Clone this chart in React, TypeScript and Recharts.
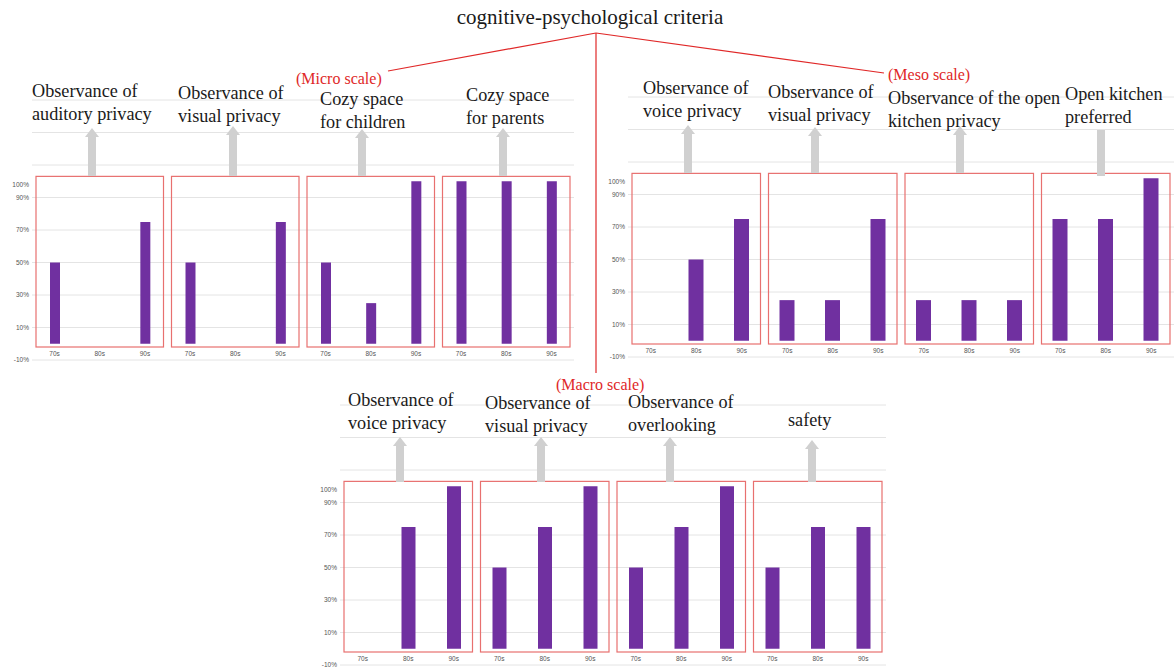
import React from 'react';
import { BarChart, Bar, XAxis, YAxis, CartesianGrid, ReferenceArea } from 'recharts';

const decades = ['70s', '80s', '90s'];
const yTicks = [-10, 10, 30, 50, 70, 90, 100];
const gridValues = [-10, 10, 30, 50, 70, 90, 110, 130, 150];

// micro scale panels
const microTitles = [
  ['Observance of', 'auditory privacy'],
  ['Observance of', 'visual privacy'],
  ['Cozy space', 'for children'],
  ['Cozy space', 'for parents'],
];
const microAuditory = [50, 0, 75];
const microVisual = [50, 0, 75];
const microChildren = [50, 25, 100];
const microParents = [100, 100, 100];

// meso scale panels
const mesoTitles = [
  ['Observance of', 'voice privacy'],
  ['Observance of', 'visual privacy'],
  ['Observance of the open', 'kitchen privacy'],
  ['Open kitchen', 'preferred'],
];
const mesoVoice = [0, 50, 75];
const mesoVisual = [25, 25, 75];
const mesoKitchen = [25, 25, 25];
const mesoOpenKitchen = [75, 75, 100];

// macro scale panels
const macroTitles = [
  ['Observance of', 'voice privacy'],
  ['Observance of', 'visual privacy'],
  ['Observance of', 'overlooking'],
  ['safety'],
];
const macroVoice = [0, 75, 100];
const macroVisual = [50, 75, 100];
const macroOverlooking = [50, 75, 100];
const macroSafety = [50, 75, 75];

const PURPLE = '#7030a0';
const BOX_RED = '#e8706f';
const LINE_RED = '#e02828';
const SANS = '"Liberation Sans", Arial, sans-serif';
const SERIF = '"Liberation Serif", "Times New Roman", serif';

const buildRows = (panels: number[][]) =>
  panels.flatMap((vals, p) => decades.map((d, i) => ({ key: `${p}-${d}`, value: vals[i] })));

const YTick = (props: any) => {
  const { x, y, payload } = props;
  return (
    <text x={x} y={y + (payload.value === 100 ? 4 : 0)} dy={2.2} textAnchor="end" fontSize={6.5} fill="#555" fontFamily={SANS}>
      {payload.value}%
    </text>
  );
};

const XTick = (props: any) => {
  const { x, y, payload } = props;
  return (
    <text x={x} y={y - 4} textAnchor="middle" fontSize={6.5} fill="#555" fontFamily={SANS}>
      {String(payload.value).split('-')[1]}
    </text>
  );
};

const boxShape = (props: any) => (
  <rect x={props.x + 4} y={props.y} width={props.width - 8} height={props.height} fill="none" stroke={BOX_RED} strokeWidth={1.2} />
);

interface GroupProps {
  left: number;
  top: number;
  width: number;
  right: number;
  barSize: number;
  panels: number[][];
}

const ScaleGroup = ({ left, top, width, right, barSize, panels }: GroupProps) => {
  const rows = buildRows(panels);
  return (
    <div style={{ position: 'absolute', left, top, width, height: 280 }}>
      <BarChart width={width} height={280} data={rows} margin={{ top: 10, right, bottom: 0, left: 0 }}>
        <CartesianGrid vertical={false} stroke="#e4e4e4" horizontalValues={gridValues} />
        <XAxis dataKey="key" height={10} axisLine={false} tickLine={false} tickSize={0} tickMargin={0} interval={0} tick={<XTick />} />
        <YAxis type="number" domain={[-10, 150]} ticks={yTicks} width={32} axisLine={false} tickLine={false} tickSize={0} tickMargin={3} interval={0} tick={<YTick />} />
        {panels.map((_, p) => (
          <ReferenceArea key={p} x1={`${p}-70s`} x2={`${p}-90s`} y1={-2} y2={103} ifOverflow="visible" shape={boxShape} />
        ))}
        <Bar dataKey="value" fill={PURPLE} barSize={barSize} isAnimationActive={false} />
      </BarChart>
    </div>
  );
};

const Title = ({ lines, x, y }: { lines: string[]; x: number; y: number }) => (
  <div style={{ position: 'absolute', left: x, top: y, fontFamily: SERIF, fontSize: 18.2, lineHeight: '23px', color: '#1a1a1a', whiteSpace: 'nowrap' }}>
    {lines.map((l, i) => <div key={i}>{l}</div>)}
  </div>
);

const Arrow = ({ x, tip, bottom, head = true }: { x: number; tip: number; bottom: number; head?: boolean }) => (
  <g fill="#d0d0d0">
    <rect x={x - 4} y={head ? tip + 8 : tip} width={8} height={bottom - (head ? tip + 8 : tip)} />
    {head && <polygon points={`${x - 7},${tip + 9} ${x + 7},${tip + 9} ${x},${tip}`} />}
  </g>
);

export default function App() {
  return (
    <div style={{ position: 'absolute', left: 0, top: 0, width: 1176, height: 670, overflow: 'hidden', background: '#fff' }}>
      <ScaleGroup left={0} top={90} width={580} right={6} barSize={10} panels={[microAuditory, microVisual, microChildren, microParents]} />
      <ScaleGroup left={596} top={87} width={580} right={2} barSize={15} panels={[mesoVoice, mesoVisual, mesoKitchen, mesoOpenKitchen]} />
      <ScaleGroup left={308} top={395} width={582} right={4} barSize={14} panels={[macroVoice, macroVisual, macroOverlooking, macroSafety]} />

      <svg width={1176} height={670} style={{ position: 'absolute', left: 0, top: 0, pointerEvents: 'none' }}>
        <line x1={596} y1={33} x2={388} y2={71} stroke={LINE_RED} strokeWidth={1.2} />
        <line x1={596} y1={33} x2={884} y2={73} stroke={LINE_RED} strokeWidth={1.2} />
        <line x1={596} y1={33} x2={596} y2={373} stroke={LINE_RED} strokeWidth={1.2} />
        <Arrow x={92} tip={128} bottom={176} />
        <Arrow x={233} tip={126} bottom={176} />
        <Arrow x={362} tip={129} bottom={176} />
        <Arrow x={503} tip={128} bottom={176} />
        <Arrow x={688} tip={125} bottom={173} />
        <Arrow x={815} tip={127} bottom={173} />
        <Arrow x={960} tip={126} bottom={173} />
        <Arrow x={1101} tip={130} bottom={176} head={false} />
        <Arrow x={400} tip={437} bottom={482} />
        <Arrow x={541} tip={437} bottom={482} />
        <Arrow x={670} tip={437} bottom={482} />
        <Arrow x={812} tip={440} bottom={482} />
      </svg>

      <div style={{ position: 'absolute', left: 0, top: 5, width: 1180, textAlign: 'center', fontFamily: SERIF, fontSize: 21, color: '#1a1a1a' }}>
        cognitive-psychological criteria
      </div>
      <div style={{ position: 'absolute', left: 296, top: 70, fontFamily: SERIF, fontSize: 16, lineHeight: '18px', color: LINE_RED }}>(Micro scale)</div>
      <div style={{ position: 'absolute', left: 888, top: 66, fontFamily: SERIF, fontSize: 16, lineHeight: '18px', color: LINE_RED }}>(Meso scale)</div>
      <div style={{ position: 'absolute', left: 556, top: 376, fontFamily: SERIF, fontSize: 16, lineHeight: '18px', color: LINE_RED }}>(Macro scale)</div>

      <Title lines={microTitles[0]} x={32} y={80} />
      <Title lines={microTitles[1]} x={178} y={82} />
      <Title lines={microTitles[2]} x={320} y={88} />
      <Title lines={microTitles[3]} x={466} y={84} />
      <Title lines={mesoTitles[0]} x={643} y={77} />
      <Title lines={mesoTitles[1]} x={768} y={81} />
      <Title lines={mesoTitles[2]} x={888} y={87} />
      <Title lines={mesoTitles[3]} x={1065} y={83} />
      <Title lines={macroTitles[0]} x={348} y={389} />
      <Title lines={macroTitles[1]} x={485} y={392} />
      <Title lines={macroTitles[2]} x={628} y={391} />
      <Title lines={macroTitles[3]} x={788} y={409} />
    </div>
  );
}
